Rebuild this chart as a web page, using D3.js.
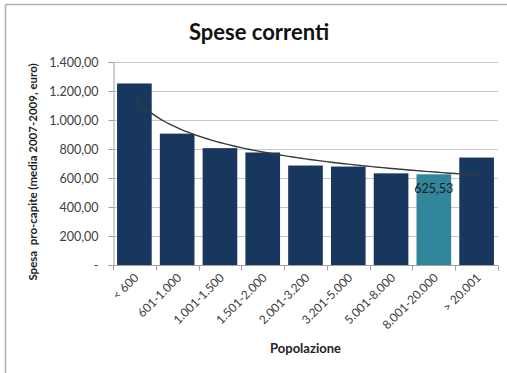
<!DOCTYPE html>
<html>
<head>
<meta charset="utf-8">
<script src="https://cdn.jsdelivr.net/npm/d3@7"></script>
<style>
  html, body { margin: 0; padding: 0; background: #fff; }
  svg { display: block; font-family: Lato, "Open Sans", sans-serif; }
</style>
</head>
<body>
<svg id="chart" width="507" height="373"></svg>
<script>
// Population classes and average per-capita current spending (2007-2009)
const categories = ["< 600", "601-1.000", "1.001-1.500", "1.501-2.000", "2.001-3.200",
                    "3.201-5.000", "5.001-8.000", "8.001-20.000", "> 20.001"];
const spesa = [1252, 906, 806, 776, 686, 679, 632, 625.53, 741];
const highlighted = "8.001-20.000";
const yTicks = [0, 200, 400, 600, 800, 1000, 1200, 1400];

const W = 507, H = 373;
const margin = { left: 113, right: 9, top: 62, bottom: 108 };
const svg = d3.select("#chart");

// frame (top and left edges)
svg.append("line").attr("x1", 5.5).attr("x2", W).attr("y1", 4.5).attr("y2", 4.5)
  .attr("stroke", "#b0b0b0").attr("stroke-width", 1.5);
svg.append("line").attr("x1", 5.5).attr("x2", 5.5).attr("y1", 4.5).attr("y2", H)
  .attr("stroke", "#b0b0b0").attr("stroke-width", 1.5);

const x = d3.scaleBand().domain(categories)
  .range([margin.left, W - margin.right]).paddingInner(0.19).paddingOuter(0.095);
const y = d3.scaleLinear().domain([0, 1400]).range([H - margin.bottom, margin.top]);

const itFmt = v => v === 0 ? "-" :
  d3.format(",.2f")(v).replace(/,/g, "#").replace(".", ",").replace(/#/g, ".");

// gridlines
svg.append("g").selectAll("line").data(yTicks.filter(d => d > 0)).join("line")
  .attr("x1", margin.left).attr("x2", W - margin.right)
  .attr("y1", d => Math.round(y(d)) + 0.5).attr("y2", d => Math.round(y(d)) + 0.5)
  .attr("stroke", "#c8c8c8").attr("stroke-width", 1);

// bars
svg.append("g").selectAll("rect").data(categories).join("rect")
  .attr("x", d => x(d)).attr("width", x.bandwidth())
  .attr("y", (d, i) => y(spesa[i])).attr("height", (d, i) => y(0) - y(spesa[i]))
  .attr("fill", d => d === highlighted ? "#31869B" : "#17375E");

// y axis
const yAxis = svg.append("g").attr("transform", `translate(${margin.left + 0.5},0)`)
  .call(d3.axisLeft(y).tickValues(yTicks).tickFormat(itFmt).tickSize(5).tickPadding(10));
yAxis.select(".domain").attr("stroke", "#a0a0a0");
yAxis.selectAll(".tick line").attr("stroke", "#a0a0a0");
yAxis.selectAll("text").attr("font-size", 12.5).attr("fill", "#404040")
  .attr("font-family", "Lato, sans-serif");

// x axis baseline and tick separators
const xAxis = svg.append("g").attr("transform", `translate(0,${y(0) + 0.5})`);
xAxis.append("line").attr("x1", margin.left).attr("x2", W - margin.right)
  .attr("stroke", "#a0a0a0");
const edges = categories.map(c => x(c) - x.step() * x.paddingInner() / 2);
edges.push(W - margin.right);
xAxis.selectAll(".sep").data(edges).join("line").attr("class", "sep")
  .attr("x1", d => Math.round(d) + 0.5).attr("x2", d => Math.round(d) + 0.5)
  .attr("y1", 0).attr("y2", 5).attr("stroke", "#a0a0a0");
xAxis.selectAll(".lbl").data(categories).join("text").attr("class", "lbl")
  .attr("transform", d => `translate(${x(d) + x.bandwidth() / 2 + 5},${13}) rotate(-45)`)
  .attr("text-anchor", "end").attr("font-size", 12).attr("fill", "#404040")
  .text(d => d);

// power trend line fitted to the series
const lx = spesa.map((v, i) => Math.log(i + 1));
const ly = spesa.map(v => Math.log(v));
const mx = d3.mean(lx), my = d3.mean(ly);
const b = d3.sum(lx, (v, i) => (v - mx) * (ly[i] - my)) / d3.sum(lx, v => (v - mx) ** 2);
const a = Math.exp(my - b * mx);
const trendPts = d3.range(1, 9.001, 0.1).map(t => [t, a * Math.pow(t, b)]);
const tx = d3.scaleLinear().domain([1, 9])
  .range([x(categories[0]) + x.bandwidth() / 2, x(categories[8]) + x.bandwidth() / 2]);
svg.append("path").datum(trendPts)
  .attr("d", d3.line().x(d => tx(d[0])).y(d => y(d[1])).curve(d3.curveBasis))
  .attr("fill", "none").attr("stroke", "#3a3a3a").attr("stroke-width", 1.4);

// value label on highlighted bar
const hi = categories.indexOf(highlighted);
svg.append("text")
  .attr("x", x(highlighted) + x.bandwidth() / 2).attr("y", y(spesa[hi]) + 19)
  .attr("text-anchor", "middle").attr("font-size", 12.5).attr("fill", "#1a1a1a")
  .text(itFmt(spesa[hi]));

// titles
svg.append("text").attr("x", 259).attr("y", 40).attr("text-anchor", "middle")
  .attr("font-size", 22).attr("font-weight", "bold").attr("fill", "#111")
  .text("Spese correnti");
svg.append("text").attr("x", (margin.left + W - margin.right) / 2).attr("y", 353)
  .attr("text-anchor", "middle").attr("font-size", 13).attr("font-weight", "bold")
  .attr("fill", "#222").text("Popolazione");
svg.append("text")
  .attr("transform", `translate(37,${172}) rotate(-90)`)
  .attr("text-anchor", "middle").attr("font-size", 11.5).attr("font-weight", "bold")
  .attr("fill", "#222").attr("xml:space", "preserve")
  .text("Spesa  pro-capite (media 2007-2009, euro)");
</script>
</body>
</html>
